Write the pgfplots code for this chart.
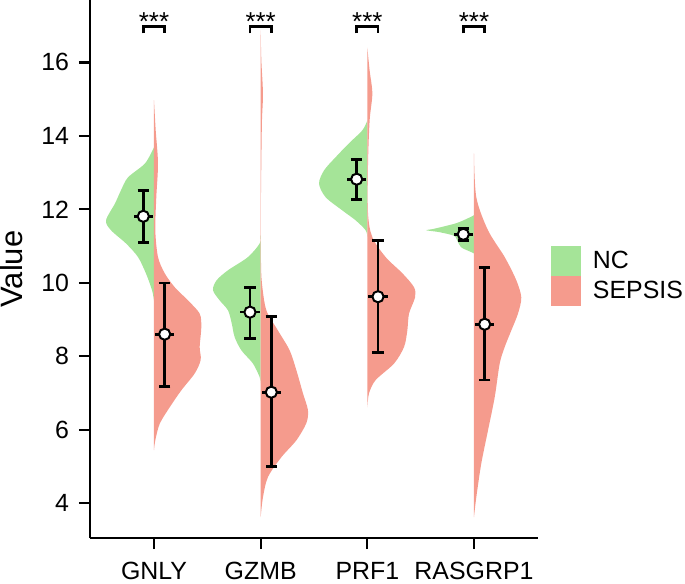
\documentclass[border=0pt]{standalone}
\usepackage{pgfplots}
\pgfplotsset{compat=1.18}
\usepackage{pgfplotstable}
\usepackage{fontspec}
\setmainfont{Liberation Sans}
\definecolor{ncgreen}{RGB}{165,228,152}
\definecolor{sepred}{RGB}{245,155,141}

% violin half-profiles: v = value, w = half width in px (1 category = 106.7 px)
\pgfplotstableread{
v w
13.69 0
13.25 9
12.87 26
12.52 33
12.16 39
11.70 48
11.43 43
11.07 28
10.70 16
10.25 8
9.80 2
9.52 0
}\gnlync
\pgfplotstableread{
v w
14.97 0
14.15 1.7
13.25 4
12.33 2.3
11.43 1.3
10.70 4
10.26 10.7
9.88 20.7
9.52 34
9.16 45.7
8.79 47.3
8.25 45.7
7.90 46.7
7.53 40.7
7.07 27.3
6.61 15.7
6.16 5.7
5.71 1.3
5.44 0
}\gnlyse
\pgfplotstableread{
v w
11.30 0
11.07 1
10.70 12.7
10.34 32.7
10.07 44
9.80 47.7
9.52 41
9.25 32.7
8.90 29
8.52 26
8.16 19.3
7.80 7.7
7.43 1
7.27 0
}\gzmbnc
\pgfplotstableread{
v w
16.87 0
16.05 0.7
15.15 2.3
14.42 1.3
13.33 0.7
11.97 0.2
10.60 0.3
9.98 1.3
9.25 5.7
8.70 17.3
8.16 29
7.62 35.7
6.99 42.3
6.53 47.3
6.18 45.7
5.71 35.7
5.25 20.7
4.71 7.3
4.16 2.3
3.62 0
}\gzmbse
\pgfplotstableread{
v w
14.42 0
14.15 5
13.80 18.3
13.42 31.7
13.06 43.3
12.70 48.3
12.33 41.7
11.97 25
11.70 11.7
11.43 1.7
11.24 0
}\prfnc
\pgfplotstableread{
v w
16.40 0
15.78 2.3
15.15 5
14.42 2.3
13.25 0.7
11.89 0.7
11.24 5
10.70 18.3
10.26 35
9.88 46.7
9.60 47.7
9.16 41.7
8.70 40
8.25 36.7
7.80 26.7
7.35 8.3
6.99 1.7
6.61 0
}\prfse
\pgfplotstableread{
v w
11.84 0
11.77 5
11.62 18
11.47 40
11.43 47.7
11.38 35
11.28 20
11.16 17
10.97 13
10.85 4
10.80 0
}\rasnc
\pgfplotstableread{
v w
13.52 0
12.33 2.3
11.43 14
10.70 30.7
10.07 42.3
9.60 47.3
9.16 44
8.70 37.3
8.25 30.7
7.80 25.7
6.88 20.7
5.98 14
5.08 7.3
4.16 2.3
3.62 0
}\rasse
% mean and mean +/- sd
\pgfplotstableread{
x m lo hi
1 11.81 11.10 12.52
2 9.20 8.49 9.88
3 12.82 12.27 13.36
4 11.32 11.16 11.48
}\ncstats
\pgfplotstableread{
x m lo hi
1 8.60 7.18 9.99
2 7.02 5.00 9.09
3 9.62 8.10 11.16
4 8.87 7.35 10.42
}\sestats

\pgfplotsset{
  vbar/.style={forget plot, draw=none, mark=none,
    error bars/.cd, y dir=both, y explicit,
    error bar style={black, line width=1.35bp},
    error mark options={rotate=90, black, mark size=2.85bp, line width=1.35bp}},
  hbar/.style={forget plot, draw=none, mark=none,
    error bars/.cd, x dir=both, x fixed=0.09, error mark=none,
    error bar style={black, line width=1.35bp}},
  meanpt/.style={forget plot, only marks, mark=*, mark size=2.8bp,
    mark options={fill=white, draw=black, line width=1bp}},
}

\begin{document}
\begin{tikzpicture}
\useasboundingbox (-45bp,-23bp) rectangle (297.5bp,269bp);
\begin{axis}[
  at={(0,0)}, anchor=south west,
  scale only axis, width=224bp, height=269bp,
  xmin=0.4, xmax=4.6, ymin=3.05, ymax=17.7,
  clip=false,
  axis x line*=bottom, axis y line*=left,
  axis line style={line width=1.1bp, -},
  tick align=outside, major tick length=5.5bp,
  every tick/.style={black, line width=1.1bp},
  xtick={1,2,3,4}, xticklabels={GNLY,GZMB,PRF1,RASGRP1},
  ytick={4,6,...,16},
  ticklabel style={font=\fontsize{12.5}{15}\selectfont},
  /pgf/number format/assume math mode=true,
  xticklabel style={yshift=-3bp},
  yticklabel style={xshift=-1.5bp},
  ylabel={Value},
  every axis y label/.style={at={(axis description cs:-0.175,0.5)}, rotate=90, anchor=center, font=\fontsize{15.5}{18}\selectfont},
  legend style={at={(axis description cs:1.029,0.5428)}, anchor=north west, draw=none, fill=none,
    inner sep=0pt, outer sep=0pt, row sep=0pt, font=\fontsize{12.5}{15}\selectfont,
    nodes={inner sep=0pt, outer sep=0pt, anchor=west},
    /tikz/every odd column/.append style={column sep=6bp}},
  legend cell align=left,
  legend image code/.code={\fill[#1] (0bp,-7.5bp) rectangle (15bp,7.5bp);},
  violin/.style={draw=none, smooth, tension=0.5},
]
% NC halves (left)
\addplot[violin, fill=ncgreen] table[x expr={1-\thisrow{w}/106.7}, y=v] {\gnlync};
\addlegendentry{NC}
\addplot[violin, fill=ncgreen, forget plot] table[x expr={2-\thisrow{w}/106.7}, y=v] {\gzmbnc};
\addplot[violin, fill=ncgreen, forget plot] table[x expr={3-\thisrow{w}/106.7}, y=v] {\prfnc};
\addplot[violin, fill=ncgreen, forget plot] table[x expr={4-\thisrow{w}/106.7}, y=v] {\rasnc};
% SEPSIS halves (right)
\addplot[violin, fill=sepred] table[x expr={1+\thisrow{w}/106.7}, y=v] {\gnlyse};
\addlegendentry{SEPSIS}
\addplot[violin, fill=sepred, forget plot] table[x expr={2+\thisrow{w}/106.7}, y=v] {\gzmbse};
\addplot[violin, fill=sepred, forget plot] table[x expr={3+\thisrow{w}/106.7}, y=v] {\prfse};
\addplot[violin, fill=sepred, forget plot] table[x expr={4+\thisrow{w}/106.7}, y=v] {\rasse};
% error bars and means
\addplot[vbar] table[x expr={\thisrow{x}-0.1}, y=m,
  y error plus expr={\thisrow{hi}-\thisrow{m}}, y error minus expr={\thisrow{m}-\thisrow{lo}}] {\ncstats};
\addplot[vbar] table[x expr={\thisrow{x}+0.1}, y=m,
  y error plus expr={\thisrow{hi}-\thisrow{m}}, y error minus expr={\thisrow{m}-\thisrow{lo}}] {\sestats};
\addplot[hbar] table[x expr={\thisrow{x}-0.1}, y=m] {\ncstats};
\addplot[hbar] table[x expr={\thisrow{x}+0.1}, y=m] {\sestats};
\addplot[meanpt] table[x expr={\thisrow{x}-0.1}, y=m] {\ncstats};
\addplot[meanpt] table[x expr={\thisrow{x}+0.1}, y=m] {\sestats};
% significance brackets
\pgfplotsinvokeforeach{1,2,3,4}{
  \draw[line width=1.4bp, black] (axis cs:#1-0.1,16.79) -- (axis cs:#1-0.1,16.98) -- (axis cs:#1+0.1,16.98) -- (axis cs:#1+0.1,16.79);
  \node[anchor=base, inner sep=0pt, font=\fontsize{13}{15}\selectfont] at (axis cs:#1,16.86) {***};
}
\end{axis}
\end{tikzpicture}
\end{document}
